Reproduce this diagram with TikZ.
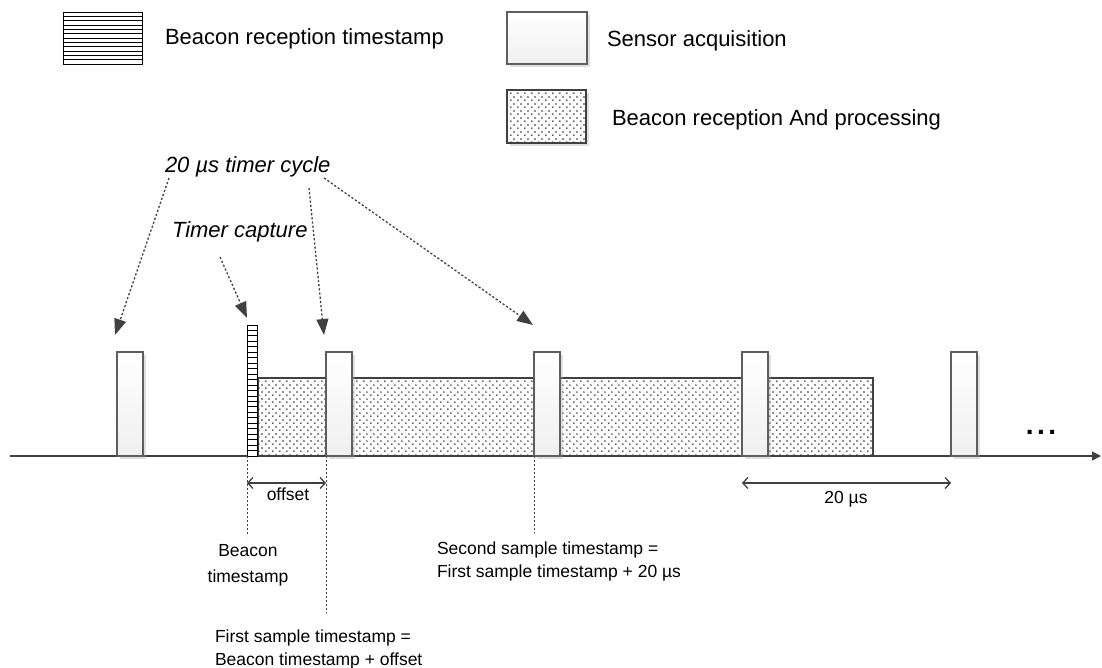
\documentclass[tikz,border=0pt]{standalone}
\usepackage{fontspec}
\setmainfont{Liberation Sans}
\usetikzlibrary{arrows.meta,patterns,shadows}
\definecolor{linec}{HTML}{404040}
\definecolor{boxc}{HTML}{5E5E5E}
\pgfdeclarepatternformonly{sparsedots}{\pgfqpoint{-1pt}{-1pt}}{\pgfqpoint{6pt}{6pt}}{\pgfqpoint{7pt}{7pt}}{%
  \pgfpathcircle{\pgfqpoint{0pt}{0pt}}{0.9pt}%
  \pgfpathcircle{\pgfqpoint{3.5pt}{3.5pt}}{0.9pt}%
  \pgfusepath{fill}}
\begin{document}
\begin{tikzpicture}[x=1pt,y=-1pt,
  every node/.style={inner sep=0pt, outer sep=0pt},
  big/.style={font=\fontsize{22}{26}\selectfont},
  bigit/.style={font=\fontsize{22}{26}\selectfont\itshape},
  small/.style={font=\fontsize{17.5}{23}\selectfont},
  shadowed/.style={drop shadow={shadow xshift=2.5pt, shadow yshift=-2.5pt, fill=gray!70, opacity=0.35}},
  sensorbox/.style={shadowed, draw=boxc, line width=1.1pt, top color=white, bottom color=gray!12},
  dotbox/.style={draw=linec, line width=1.1pt, preaction={fill=white}, pattern=sparsedots, pattern color=black!85},
  hatchbox/.style={draw=black, line width=0.9pt, fill=white,
    path picture={\foreach \k in {1,...,40}{\draw[line width=0.9pt] ([yshift=-\k*#1]path picture bounding box.north west) -- ([yshift=-\k*#1]path picture bounding box.north east);}}},
  dotarrow/.style={draw=linec, line width=1.3pt, dash pattern=on 2.2pt off 2pt, -{Triangle[length=16pt,width=12pt]}},
  dashline/.style={draw=linec, line width=1pt, dash pattern=on 2pt off 2pt},
  dimarrow/.style={draw=linec, line width=1.3pt, {Straight Barb[length=5pt,width=11pt]}-{Straight Barb[length=5pt,width=11pt]}},
  axisline/.style={draw=linec, line width=1.5pt, -{Triangle[length=9pt,width=9pt]}}
]
\useasboundingbox (0,0) rectangle (1102,667);

% legend
\node[hatchbox=4.33pt, minimum width=79pt, minimum height=52pt] (lg1) at (102.5,38) {};
\node[big, anchor=base west] (lg1t) at (165,44) {Beacon reception timestamp};
\node[sensorbox, minimum width=80pt, minimum height=52pt] (lg2) at (547,38) {};
\node[big, anchor=base west] (lg2t) at (607,46) {Sensor acquisition};
\node[shadowed, dotbox, minimum width=79pt, minimum height=53pt] (lg3) at (546.5,116.5) {};
\node[big, anchor=base west] (lg3t) at (612,125) {Beacon reception And processing};

% axis
\coordinate (ax0) at (10,456);
\coordinate (ax1) at (1101,456);
\draw[axisline] (ax0) -- (ax1);

% dotted processing boxes
\node[dotbox, minimum width=68pt, minimum height=78pt] (d1) at (292,417) {};
\node[dotbox, minimum width=182pt, minimum height=78pt] (d2) at (443,417) {};
\node[dotbox, minimum width=182pt, minimum height=78pt] (d3) at (651,417) {};
\node[dotbox, minimum width=105pt, minimum height=78pt] (d4) at (820.5,417) {};

% sensor boxes
\node[sensorbox, minimum width=26pt, minimum height=104pt] (s1) at (130,404) {};
\node[sensorbox, minimum width=26pt, minimum height=104pt] (s2) at (339,404) {};
\node[sensorbox, minimum width=26pt, minimum height=104pt] (s3) at (547,404) {};
\node[sensorbox, minimum width=26pt, minimum height=104pt] (s4) at (755,404) {};
\node[sensorbox, minimum width=26pt, minimum height=104pt] (s5) at (964,404) {};

% beacon timestamp
\node[hatchbox=5.46pt, minimum width=10pt, minimum height=131pt] (ts) at (252,390.5) {};

% labels top
\node[bigit, anchor=base west] (cyc) at (165,172) {20 µs timer cycle};
\node[bigit, anchor=base west] (cap) at (172,237) {Timer capture};

\coordinate (a1s) at (169,178); \coordinate (a1e) at (115,335);
\coordinate (a2s) at (220,257); \coordinate (a2e) at (247,318);
\coordinate (a3s) at (309,188); \coordinate (a3e) at (324,335);
\coordinate (a4s) at (324,178); \coordinate (a4e) at (533,325);
\draw[dotarrow] (a1s) -- (a1e);
\draw[dotarrow] (a2s) -- (a2e);
\draw[dotarrow] (a3s) -- (a3e);
\draw[dotarrow] (a4s) -- (a4e);

% labels bottom
\node[small, font=\fontsize{17.5}{26}\selectfont, align=center, anchor=north] (bts) at (248,544.5) {Beacon\\timestamp};
\node[small, align=left, anchor=north west] (sst) at (437,541.5) {Second sample timestamp =\\First sample timestamp + 20 µs};
\node[small, align=left, anchor=north west] (fst) at (215,629.5) {First sample timestamp =\\Beacon timestamp + offset};
\node[small, anchor=base] (off) at (288,500) {offset};
\node[small, anchor=base] (mu) at (846,503) {20 µs};
\node[font=\fontsize{28}{30}\selectfont\bfseries] (dots) at (1041,432) {.\hspace{3.5pt}.\hspace{3.5pt}.};

\draw[dashline, shorten >=8.5pt] (ts.south west) -- (ts.south west |- bts.north);
\draw[dashline, shorten >=17pt] (s2.south west) -- (s2.south west |- fst.north);
\draw[dashline, shorten >=9pt] (s3.south west) -- (s3.south west |- sst.north);

\draw[dimarrow] ([yshift=-27pt]ts.south west) -- ([yshift=-27pt]s2.south west);
\draw[dimarrow] ([yshift=-27pt]s4.south west) -- ([yshift=-27pt]s5.south west);
\end{tikzpicture}
\end{document}
